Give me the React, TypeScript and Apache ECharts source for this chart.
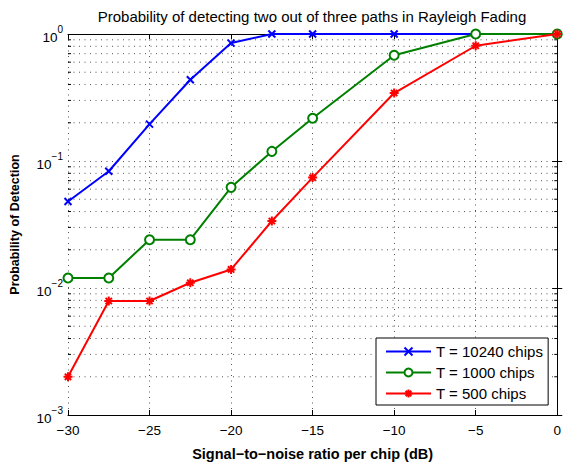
import React, { useEffect, useRef } from "react";
import * as echarts from "echarts";

const snr = [-30, -27.5, -25, -22.5, -20, -17.5, -15, -10, -5, 0];
const pd10240 = [0.048, 0.083, 0.195, 0.436, 0.848, 1.0, 1.0, 1.0, 1.0, 1.0];
const pd1000 = [0.012, 0.012, 0.024, 0.024, 0.062, 0.119, 0.217, 0.68, 1.0, 1.0];
const pd500 = [0.002, 0.0079, 0.0079, 0.011, 0.014, 0.0337, 0.074, 0.343, 0.808, 1.0];
const seriesNames = ["T = 10240 chips", "T = 1000 chips", "T = 500 chips"];
const minorY = [
  0.002, 0.003, 0.004, 0.005, 0.006, 0.007, 0.008, 0.009,
  0.02, 0.03, 0.04, 0.05, 0.06, 0.07, 0.08, 0.09,
  0.2, 0.3, 0.4, 0.5, 0.6, 0.7, 0.8, 0.9,
];
const titleText = "Probability of detecting two out of three paths in Rayleigh Fading";
const xTitle = "Signal\u2212to\u2212noise ratio per chip (dB)";
const yTitle = "Probability of Detection";

const FONT = "Liberation Sans, Arial, Helvetica, sans-serif";
const X_MARK = "path://M0 0L10 10M10 0L0 10";
const STAR_MARK = "path://M5 0L5 10M0 5L10 5M1.5 1.5L8.5 8.5M8.5 1.5L1.5 8.5";
const DOT = [1, 4.5];

export default function App() {
  const ref = useRef<HTMLDivElement>(null);
  useEffect(() => {
    if (!ref.current) return;
    const chart = echarts.init(ref.current, null, { renderer: "svg" });
    const mk = (ys: number[]) => snr.map((x, i) => [x, ys[i]]);
    const grid = { left: 65, right: 5, top: 34, bottom: 42 };
    const dotted = { color: "#555", width: 1, type: DOT as any };
    const xFmt = (v: number) => (v < 0 ? "\u2212" + Math.abs(v) : String(v));
    const yFmt = (v: number) => {
      const e = Math.round(Math.log10(v));
      return "{b|10}{s|" + (e < 0 ? "\u2212" + Math.abs(e) : String(e)) + "}";
    };
    chart.setOption({
      animation: false,
      backgroundColor: "#fff",
      textStyle: { fontFamily: FONT },
      graphic: [
        {
          type: "text",
          x: 312,
          y: 16,
          style: {
            text: titleText,
            font: "15px " + FONT,
            fill: "#000",
            textAlign: "center",
            textVerticalAlign: "middle",
          },
        },
      ],
      grid,
      legend: {
        orient: "vertical",
        left: 376,
        top: 338,
        padding: [6, 5, 4, 9],
        itemWidth: 45,
        itemHeight: 10,
        itemGap: 6,
        backgroundColor: "#fff",
        borderColor: "#000",
        borderWidth: 1,
        borderRadius: 0,
        textStyle: { fontSize: 15, color: "#000", fontFamily: FONT },
        data: seriesNames,
      },
      xAxis: [
        {
          type: "value",
          min: -30,
          max: 0,
          interval: 5,
          name: xTitle,
          nameLocation: "middle",
          nameGap: 31,
          nameTextStyle: { fontSize: 14.5, fontWeight: "bold", color: "#000", fontFamily: FONT },
          axisLine: { lineStyle: { color: "#000", width: 1 } },
          axisTick: { inside: true, length: 5, lineStyle: { color: "#000" } },
          axisLabel: { formatter: xFmt, fontSize: 13.5, color: "#000", margin: 8, fontFamily: FONT },
          splitLine: { show: true, lineStyle: dotted },
        },
        {
          type: "value",
          position: "top",
          min: -30,
          max: 0,
          interval: 5,
          axisLine: { lineStyle: { color: "#000", width: 1 } },
          axisTick: { inside: true, length: 5, lineStyle: { color: "#000" } },
          axisLabel: { show: false },
          splitLine: { show: false },
        },
      ],
      yAxis: [
        {
          type: "log",
          logBase: 10,
          min: 0.001,
          max: 1,
          name: yTitle,
          nameLocation: "middle",
          nameGap: 47,
          nameRotate: 90,
          nameTextStyle: { fontSize: 12.5, fontWeight: "bold", color: "#000", fontFamily: FONT },
          axisLine: { lineStyle: { color: "#000", width: 1 } },
          axisTick: { inside: true, length: 5, lineStyle: { color: "#000" } },
          axisLabel: {
            formatter: yFmt,
            margin: 5,
            color: "#000",
            rich: {
              b: { fontSize: 13.5, lineHeight: 20, verticalAlign: "bottom", fontFamily: FONT, color: "#000" },
              s: { fontSize: 10, lineHeight: 12, verticalAlign: "top", fontFamily: FONT, color: "#000" },
            },
          },
          splitLine: { show: true, lineStyle: dotted },
        },
        {
          type: "log",
          logBase: 10,
          position: "right",
          min: 0.001,
          max: 1,
          axisLine: { lineStyle: { color: "#000", width: 1 } },
          axisTick: { inside: true, length: 5, lineStyle: { color: "#000" } },
          axisLabel: { show: false },
          splitLine: { show: false },
        },
      ],
      series: [
        {
          type: "custom",
          silent: true,
          xAxisIndex: 0,
          yAxisIndex: 0,
          data: minorY.map((v) => [-30, v]),
          z: 1,
          renderItem: (params: any, api: any) => {
            const v = api.value(1);
            const p0 = api.coord([-30, v]);
            const p1 = api.coord([0, v]);
            return {
              type: "group",
              children: [
                {
                  type: "line",
                  shape: { x1: p0[0], y1: p0[1], x2: p1[0], y2: p1[1] },
                  style: { stroke: "#555", lineWidth: 1, lineDash: DOT },
                },
                {
                  type: "line",
                  shape: { x1: p0[0], y1: p0[1], x2: p0[0] + 3, y2: p0[1] },
                  style: { stroke: "#000", lineWidth: 1 },
                },
                {
                  type: "line",
                  shape: { x1: p1[0] - 3, y1: p1[1], x2: p1[0], y2: p1[1] },
                  style: { stroke: "#000", lineWidth: 1 },
                },
              ],
            };
          },
        },
        {
          name: seriesNames[0],
          type: "line",
          data: mk(pd10240),
          symbol: X_MARK,
          symbolSize: 7,
          z: 3,
          lineStyle: { color: "#0000ff", width: 2 },
          itemStyle: { color: "#0000ff", borderColor: "#0000ff", borderWidth: 2 },
        },
        {
          name: seriesNames[1],
          type: "line",
          data: mk(pd1000),
          symbol: "emptyCircle",
          symbolSize: 9,
          z: 4,
          lineStyle: { color: "#008000", width: 2 },
          itemStyle: { color: "#008000", borderColor: "#008000", borderWidth: 2 },
        },
        {
          name: seriesNames[2],
          type: "line",
          data: mk(pd500),
          symbol: STAR_MARK,
          symbolSize: 9,
          z: 5,
          lineStyle: { color: "#ff0000", width: 2 },
          itemStyle: { color: "#ff0000", borderColor: "#ff0000", borderWidth: 2 },
        },
      ],
    });
    return () => chart.dispose();
  }, []);
  return (
    <div
      ref={ref}
      style={{ position: "absolute", left: 0, top: 0, width: 564, height: 466 }}
    />
  );
}
